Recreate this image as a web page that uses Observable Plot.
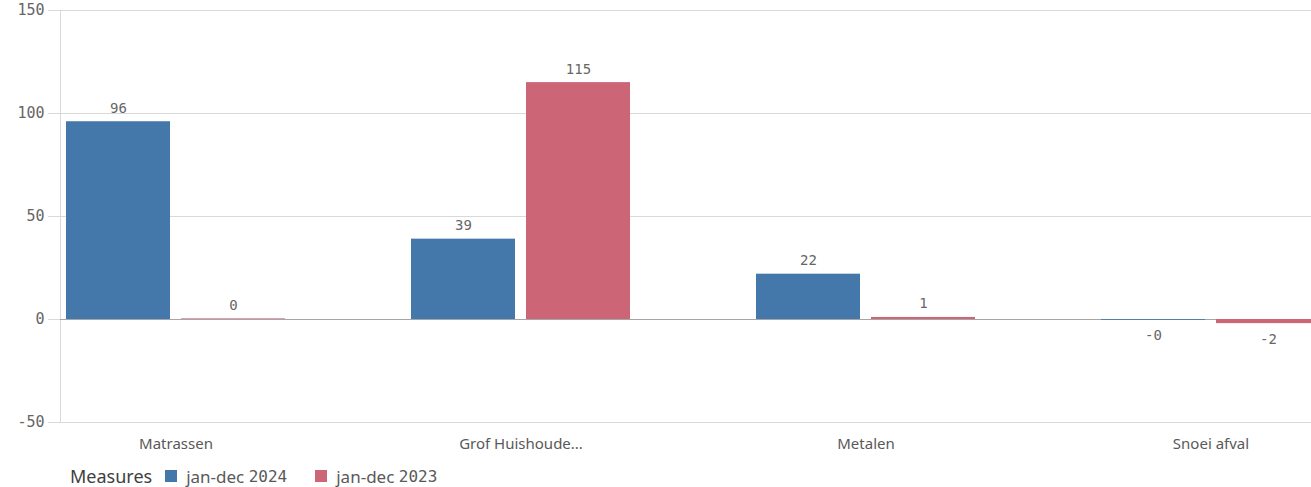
<!DOCTYPE html>
<html><head><meta charset="utf-8">
<script src="https://cdn.jsdelivr.net/npm/d3@7"></script>
<script src="https://cdn.jsdelivr.net/npm/@observablehq/plot@0.6"></script>
<style>
body{margin:0;background:#fff;}
#chart{position:relative;width:1311px;height:455px;}
#chart svg{position:absolute;left:0;top:0;}
#legend{height:32px;padding-top:5px;display:flex;align-items:center;padding-left:70px;font-family:"Noto Sans",sans-serif;color:#595959;}
#legend .title{font-size:18px;color:#404040;margin-right:13px;}
#legend .sw{width:12px;height:12px;display:inline-block;margin-right:9px;}
#legend .item{display:flex;align-items:center;font-size:17px;margin-right:28px;}
#legend .num{font-family:"DejaVu Sans Mono",monospace;font-size:16px;}
</style></head><body><div id="chart"></div><div id="legend"></div>
<script>
const categories = ["Matrassen", "Grof Huishoude...", "Metalen", "Snoei afval"];
const series = ["jan-dec 2024", "jan-dec 2023"];
const values2024 = [96, 39, 22, -0.4];
const values2023 = [0.3, 115, 1, -2];
const colors = ["#4477aa", "#cc6677"];
const yTicks = [-50, 0, 50, 100, 150];

const data = categories.flatMap((c, i) => [
  {category: c, series: series[0], value: values2024[i]},
  {category: c, series: series[1], value: values2023[i]}
]);
const fmt = v => (v < 0 ? "-" : "") + Math.abs(Math.round(v));

const common = {
  width: 1311, height: 455, marginTop: 10, marginBottom: 33, marginLeft: 60, marginRight: 0,
  y: {domain: [-50, 150], axis: null}
};

// background: y axis, gridlines, zero line
const back = Plot.plot({
  ...common,
  style: {fontFamily: "DejaVu Sans Mono", color: "#666", background: "#fff"},
  x: {domain: [0, 1], axis: null},
  marks: [
    Plot.gridY(yTicks, {stroke: "#d9d9d9", strokeOpacity: 1}),
    Plot.axisY(yTicks, {tickSize: 12, tickPadding: 4, stroke: "#d9d9d9", fill: "#666", fontSize: 15, label: null, tickFormat: d => String(d)}),
    Plot.ruleX([0], {stroke: "#d9d9d9"}),
    Plot.ruleY([0], {stroke: "#a6a6a6"})
  ]
});

// foreground: grouped bars
const front = Plot.plot({
  ...common,
  style: {fontFamily: "DejaVu Sans Mono", color: "#666", background: "transparent", overflow: "hidden"},
  fx: {domain: categories, range: [66, 1320], paddingInner: 126 / 345, paddingOuter: 0, axis: null, label: null},
  x: {domain: series, paddingInner: 11 / 115, paddingOuter: 0, axis: null},
  color: {domain: series, range: colors},
  marks: [
    Plot.barY(data, {fx: "category", x: "series", y: "value", fill: "series"}),
    Plot.text(data.filter(d => d.value >= 0), {fx: "category", x: "series", y: "value", text: d => fmt(d.value), lineAnchor: "bottom", dy: -9, fontSize: 14, fill: "#666"}),
    Plot.text(data.filter(d => d.value < 0), {fx: "category", x: "series", y: "value", text: d => fmt(d.value), lineAnchor: "top", dy: 10, fontSize: 14, fill: "#666"}),
    Plot.axisFx({anchor: "bottom", tickSize: 0, tickPadding: 16, fontSize: 15, fontFamily: "Noto Sans", fill: "#595959", label: null})
  ]
});
document.getElementById("chart").append(back, front);

const legend = document.getElementById("legend");
legend.innerHTML = `<span class="title">Measures</span>` + series.map((s, i) => {
  const [a, b] = s.split(" ");
  return `<span class="item"><span class="sw" style="background:${colors[i]}"></span>${a}&nbsp;<span class="num">${b}</span></span>`;
}).join("");
</script></body></html>
